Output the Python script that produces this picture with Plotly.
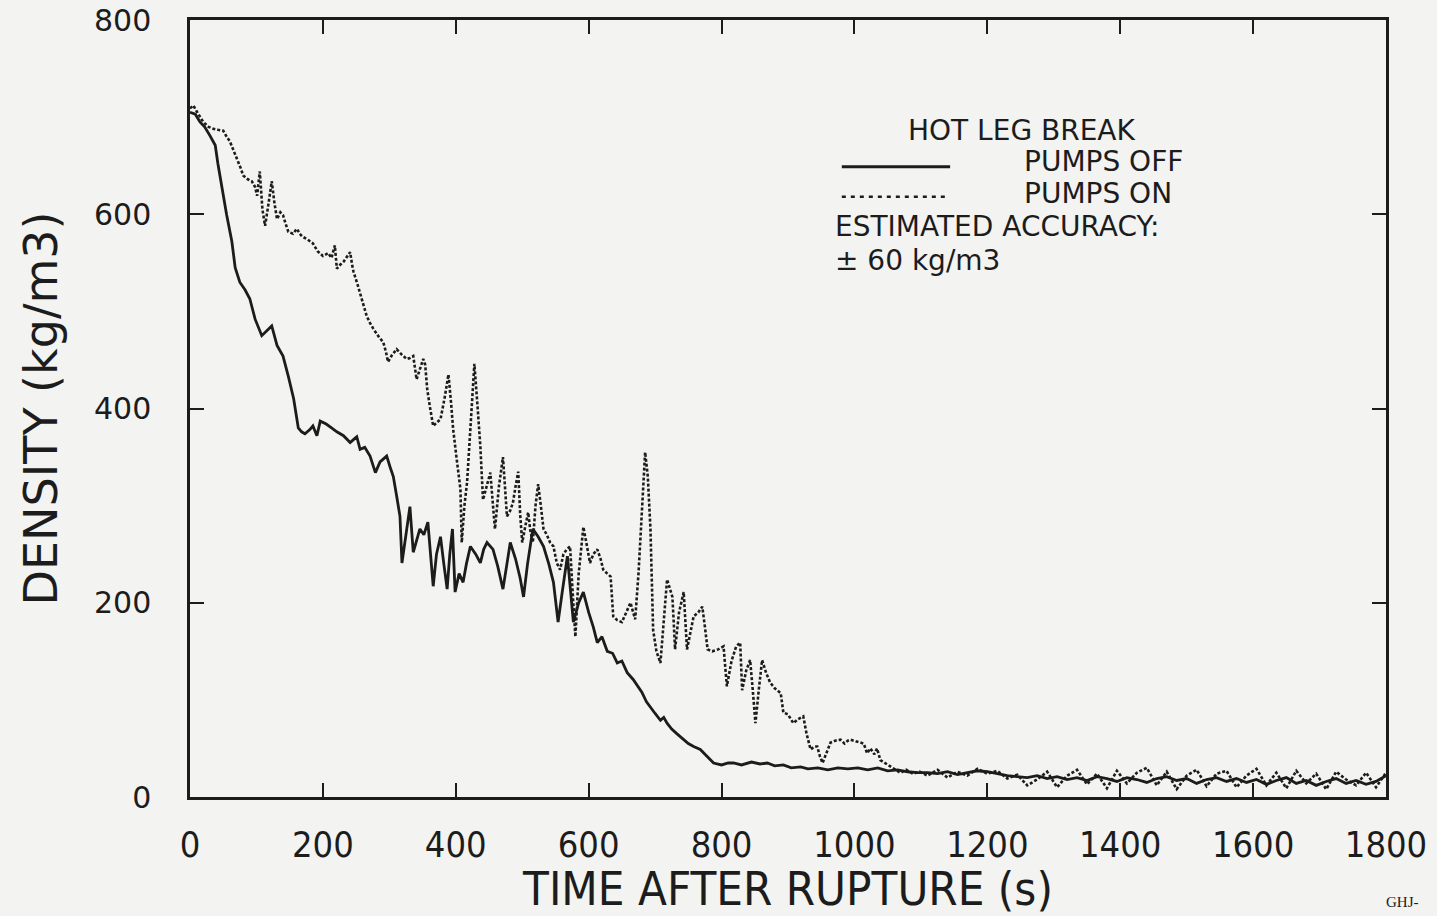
import plotly.graph_objects as go

# ---------------- data ----------------
# PUMPS OFF (solid line)
t_off = [0, 8, 15, 22, 30, 38, 42, 48, 55, 63, 68, 75, 83, 90, 98, 108, 116, 123, 131, 140,
         148, 156, 163, 168, 173, 180, 185, 191, 196, 205, 213, 221, 231, 241, 246, 251, 256,
         263, 271, 279, 286, 296, 301, 306, 311, 316, 319, 325, 331, 336, 341, 346, 352, 358,
         362, 366, 371, 377, 382, 387, 391, 395, 399, 405, 411, 416, 422, 430, 437, 442, 447,
         452, 456, 463, 471, 477, 482, 490, 497, 502, 508, 516, 524, 532, 540, 547, 554, 560,
         568, 577, 585, 592, 600, 607, 613, 620, 628, 636, 643, 650, 658, 667, 673, 680, 687,
         693, 700, 708, 713, 718, 725, 733, 743, 750, 758, 768, 778, 788, 800, 810, 818, 830,
         845, 858, 869, 880, 893, 905, 919, 930, 945, 960, 975, 990, 1005, 1020, 1035, 1050,
         1065, 1080, 1095,
         1110, 1125, 1140, 1155, 1170, 1185, 1200, 1215, 1230, 1245, 1260, 1275, 1290, 1305,
         1320, 1335, 1350, 1365, 1380, 1395, 1410, 1425, 1440, 1455, 1470, 1485, 1500, 1515,
         1530, 1545, 1560, 1575, 1590, 1605, 1620, 1635, 1650, 1665, 1680, 1695, 1710, 1725,
         1740, 1755, 1770, 1785, 1800]
rho_off = [705, 703, 695, 690, 681, 671, 652, 626, 600, 572, 545, 530, 522, 513, 492, 475, 480,
           485, 465, 454, 433, 410, 380, 376, 374, 378, 382, 372, 387, 384, 380, 376, 372, 365,
           368, 371, 358, 360, 351, 334, 345, 351, 340, 330, 310, 289, 241, 270, 299, 252, 265,
           276, 270, 283, 250, 217, 250, 268, 240, 214, 250, 276, 211, 230, 221, 240, 258, 250,
           241, 255, 262, 258, 255, 238, 214, 240, 262, 245, 225, 206, 240, 276, 268, 258, 240,
           221, 180, 210, 248, 180, 200, 211, 190, 175, 159, 165, 150, 148, 138, 140, 128, 121,
           115, 108, 98, 93, 86, 79, 82, 76, 70, 65, 59, 55, 52, 49, 42, 35, 33, 35, 35, 33, 36,
           34, 35, 32, 33, 30, 31, 29, 30, 28, 30, 29, 30, 28, 30, 27, 28, 26, 25,
           25, 24, 26, 23, 25, 27, 26, 24, 22, 21, 20, 22, 19, 21, 18, 20, 17, 21, 19, 16, 20,
           18, 15, 19, 21, 17, 19, 14, 18, 20, 16, 19, 15, 18, 13, 17, 20, 14, 17, 12, 16, 19,
           14, 17, 13, 16, 22]

# PUMPS ON (dotted line)
t_on = [0, 5, 10, 15, 20, 28, 35, 42, 50, 55, 60, 66, 71, 76, 80, 87, 93, 98, 101, 105, 109,
        113, 118, 123, 127, 131, 136, 140, 144, 148, 155, 161, 165, 169, 177, 185, 192, 200,
        208, 213, 218, 221, 226, 231, 236, 241, 244, 246, 252, 259, 266, 271, 276, 284, 291,
        295, 298, 304, 311, 318, 326, 331, 336, 341, 346, 351, 354, 357, 361, 366, 372, 377,
        383, 389, 393, 396, 401, 407, 409, 413, 417, 422, 428, 433, 437, 441, 446, 452, 456,
        459, 465, 471, 474, 477, 482, 486, 490, 494, 497, 500, 505, 509, 512, 516, 520, 524,
        528, 532, 537, 542, 547, 552, 557, 562, 567, 572, 576, 580, 585, 592, 597, 602, 607,
        613, 618, 622, 628, 633, 637, 643, 650, 656, 663, 667, 670, 675, 680, 685, 689, 693,
        697, 702, 708, 713, 718, 722, 726, 728, 730, 736, 743, 748, 753, 758, 765, 771, 775,
        779, 786, 795, 803, 806, 808, 815, 822, 828, 831, 837, 843, 847, 851, 856, 861, 867,
        873, 880, 889, 893, 900, 908, 915, 923, 928, 934, 940, 944, 948, 952, 958, 964, 971,
        979, 985, 990, 994, 1000, 1005, 1009, 1014, 1019, 1024, 1030, 1034, 1039, 1046, 1054,
        1062, 1069, 1078, 1088, 1098,
        1110, 1125, 1140, 1155, 1170, 1185, 1200, 1215, 1230, 1245, 1260, 1275, 1290, 1305,
        1320, 1335, 1350, 1365, 1380, 1395, 1410, 1425, 1440, 1455, 1470, 1485, 1500, 1515,
        1530, 1545, 1560, 1575, 1590, 1605, 1620, 1635, 1650, 1665, 1680, 1695, 1710, 1725,
        1740, 1755, 1770, 1785, 1800]
rho_on = [709, 712, 706, 700, 695, 690, 688, 687, 686, 680, 675, 665, 657, 648, 640, 636, 634,
          628, 619, 644, 605, 588, 610, 634, 612, 595, 602, 599, 590, 582, 580, 585, 580, 577,
          574, 570, 562, 557, 560, 555, 568, 544, 548, 551, 556, 561, 548, 541, 528, 510, 495,
          488, 482, 474, 468, 458, 448, 455, 461, 456, 451, 452, 454, 430, 440, 451, 445, 420,
          402, 382, 386, 389, 410, 435, 405, 379, 350, 317, 262, 300, 324, 379, 446, 400, 361,
          306, 320, 334, 300, 276, 320, 350, 320, 289, 295, 303, 320, 335, 290, 262, 280, 293,
          275, 262, 300, 322, 300, 276, 270, 262, 258, 241, 234, 250, 255, 258, 210, 165, 230,
          278, 260, 241, 250, 255, 245, 234, 230, 227, 186, 182, 180, 190, 200, 190, 183, 230,
          300, 355, 330, 276, 172, 150, 138, 180, 224, 215, 206, 180, 152, 190, 211, 152, 170,
          186, 190, 196, 175, 152, 150, 152, 155, 130, 114, 140, 155, 159, 110, 130, 141, 110,
          76, 110, 141, 128, 118, 112, 107, 87, 85, 76, 80, 83, 65, 49, 52, 52, 42, 35, 45, 56,
          58, 59, 55, 58, 59, 58, 57, 56, 55, 45, 50, 44, 50, 38, 35, 31, 28, 25, 28, 24, 26,
          22, 28, 20, 26, 22, 29, 24, 27, 19, 23, 12, 18, 26, 10, 22, 28, 13, 24, 9, 27, 14,
          25, 30, 12, 26, 8, 22, 28, 11, 24, 27, 10, 22, 29, 12, 25, 9, 27, 14, 24, 8, 26, 18,
          12, 25, 10, 25]

x_ticks = [0, 200, 400, 600, 800, 1000, 1200, 1400, 1600, 1800]
y_ticks = [0, 200, 400, 600, 800]

INK = "#1c1c1c"
BG = "#f3f3f1"

fig = go.Figure()
fig.add_trace(go.Scatter(x=t_off, y=rho_off, mode="lines", name="PUMPS OFF",
                         line=dict(color=INK, width=2.8)))
fig.add_trace(go.Scatter(x=t_on, y=rho_on, mode="lines", name="PUMPS ON",
                         line=dict(color=INK, width=2.6, dash="3px,2px")))

# legend line samples
fig.add_shape(type="line", x0=981, x1=1144, y0=649, y1=649, xref="x", yref="y",
              line=dict(color=INK, width=3))
fig.add_shape(type="line", x0=981, x1=1141, y0=618, y1=618, xref="x", yref="y",
              line=dict(color=INK, width=2.6, dash="4px,5px"))

tfont = dict(family="DejaVu Sans, Liberation Sans, sans-serif", size=28, color=INK)
fig.add_annotation(x=1252, y=686, text="HOT LEG BREAK", showarrow=False, xanchor="center",
                   yanchor="middle", font=tfont)
fig.add_annotation(x=1252, y=654, text="PUMPS OFF", showarrow=False, xanchor="left",
                   yanchor="middle", font=tfont)
fig.add_annotation(x=1252, y=621, text="PUMPS ON", showarrow=False, xanchor="left",
                   yanchor="middle", font=tfont)
fig.add_annotation(x=967, y=587, text="ESTIMATED ACCURACY:", showarrow=False, xanchor="left",
                   yanchor="middle", font=tfont)
fig.add_annotation(x=967, y=552, text="± 60 kg/m3", showarrow=False, xanchor="left",
                   yanchor="middle", font=tfont)
fig.add_annotation(x=1.0, y=0.0, xref="paper", yref="paper", text="GHJ-", showarrow=False,
                   xanchor="left", yanchor="top", xshift=-2, yshift=-95,
                   font=dict(family="Liberation Serif, serif", size=15, color=INK))

fig.update_xaxes(range=[0, 1800], tickvals=x_ticks, ticktext=[str(v) for v in x_ticks],
                 showline=True, linewidth=2.5, linecolor=INK, mirror="ticks",
                 ticks="inside", ticklen=14, tickwidth=2, tickcolor=INK,
                 showgrid=False, zeroline=False, ticklabelstandoff=14, automargin=False,
                 tickfont=dict(family="Liberation Sans Narrow, DejaVu Sans Condensed, sans-serif",
                               size=36, color=INK),
                 title=dict(text="TIME AFTER RUPTURE (s)", standoff=0,
                            font=dict(family="Liberation Sans Narrow, DejaVu Sans Condensed, sans-serif",
                                      size=47, color=INK)))
fig.update_yaxes(range=[0, 800], tickvals=y_ticks, ticktext=[str(v) for v in y_ticks],
                 showline=True, linewidth=2.5, linecolor=INK, mirror="ticks",
                 ticks="inside", ticklen=14, tickwidth=2, tickcolor=INK,
                 showgrid=False, zeroline=False, ticklabelstandoff=30, automargin=False,
                 tickfont=dict(family="DejaVu Sans, sans-serif", size=30, color=INK),
                 title=dict(text="DENSITY (kg/m3)", standoff=22,
                            font=dict(family="DejaVu Sans, sans-serif", size=46, color=INK)))

fig.update_layout(width=1437, height=916, showlegend=False,
                  paper_bgcolor=BG, plot_bgcolor=BG,
                  margin=dict(l=190, r=51, t=20, b=119, autoexpand=False))

fig.write_html("out.html", config={"displayModeBar": False},
               post_script="document.body.style.margin='0';document.body.style.background='#f3f3f1';")
